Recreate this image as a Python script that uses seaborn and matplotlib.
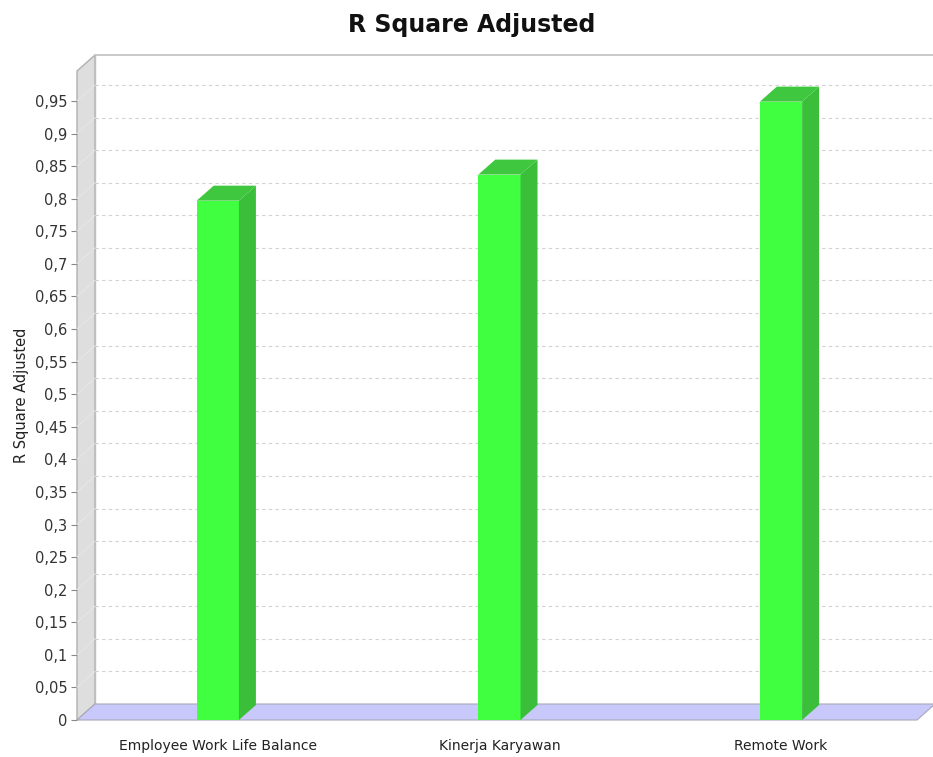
import numpy as np
import pandas as pd
import matplotlib
matplotlib.use("Agg")
import matplotlib.pyplot as plt
import seaborn as sns
from matplotlib.patches import Polygon

sns.set_style("white")
plt.rcParams['font.family'] = ['DejaVu Sans']

# data
categories = ['Employee Work Life Balance', 'Kinerja Karyawan', 'Remote Work']
values = [0.797, 0.837, 0.949]
y_ticks = [round(0.05 * i, 2) for i in range(20)]

df = pd.DataFrame({'Variabel': categories, 'R Square Adjusted': values})

W, H = 933, 757
fig = plt.figure(figsize=(W / 100, H / 100), dpi=100)
# front plane of the 3D plot
L, R, B, T = 77, 917, 720, 71
ax = fig.add_axes([L / W, (H - B) / H, (R - L) / W, (B - T) / H])

sns.barplot(data=df, x='Variabel', y='R Square Adjusted', color='#40ff40',
            saturation=1, width=0.15, ax=ax, zorder=3, edgecolor='none', linewidth=0)

ax.set_xlim(-0.5, 2.483)
ax.set_ylim(0, 0.996)
for s in ax.spines.values():
    s.set_visible(False)

# pixel -> data conversion
px_x = (2.483 + 0.5) / (R - L)
px_y = 0.996 / (B - T)
DX, DY = 18, 16      # wall depth
BDX, BDY = 17, 15    # bar depth
x0, x1 = ax.get_xlim()
y1 = ax.get_ylim()[1]

# left wall
wall = Polygon([(x0, 0), (x0, y1), (x0 + DX * px_x, y1 + DY * px_y), (x0 + DX * px_x, DY * px_y)],
               closed=True, facecolor='#dedede', edgecolor='#b0b0b0', lw=1, zorder=0.5, clip_on=False)
ax.add_patch(wall)
# top border of back wall
ax.plot([x0 + DX * px_x, x1 + DX * px_x], [y1 + DY * px_y] * 2, color='#c0c0c0', lw=1.2,
        zorder=0.6, clip_on=False)
ax.plot([x0 + DX * px_x, x0 + DX * px_x], [DY * px_y, y1 + DY * px_y], color='#c0c0c0', lw=1,
        zorder=0.6, clip_on=False)

# gridlines on back wall + faint guides on left wall
for t in y_ticks[1:]:
    ax.plot([x0 + DX * px_x, x1 + DX * px_x], [t + DY * px_y] * 2, color='#d2d2d2', lw=0.8,
            ls=(0, (3, 3)), zorder=0.7, clip_on=False)
    ax.plot([x0, x0 + DX * px_x], [t, t + DY * px_y], color='#e6e6e6', lw=0.8, zorder=0.6,
            clip_on=False)

# floor
floor = Polygon([(x0, 0), (x1, 0), (x1 + DX * px_x, DY * px_y), (x0 + DX * px_x, DY * px_y)],
                closed=True, facecolor='#c8c8fa', edgecolor='#a8a8b8', lw=0.8, zorder=1, clip_on=False)
ax.add_patch(floor)

# 3D faces for bars
for p in list(ax.patches):
    if p in (wall, floor):
        continue
    bx0 = p.get_x()
    bx1 = bx0 + p.get_width()
    h = p.get_height()
    if h <= 0:
        continue
    ox, oy = BDX * px_x, BDY * px_y
    top = Polygon([(bx0, h), (bx1, h), (bx1 + ox, h + oy), (bx0 + ox, h + oy)],
                  closed=True, facecolor='#3fc83f', edgecolor='none', zorder=3.5, clip_on=False)
    side = Polygon([(bx1, 0), (bx1, h), (bx1 + ox, h + oy), (bx1 + ox, oy)],
                   closed=True, facecolor='#3bbf3b', edgecolor='none', zorder=3.5, clip_on=False)
    ax.add_patch(top)
    ax.add_patch(side)

ax.set_yticks(y_ticks)
ax.set_yticklabels(['0' if t == 0 else f'{t:g}'.replace('.', ',') for t in y_ticks], fontsize=10.5,
                   color='#333333')
ax.tick_params(axis='y', length=4, width=0.8, color='#888888', pad=3, left=True)
ax.tick_params(axis='x', length=0, pad=14, labelsize=10, labelcolor='#222222')
ax.set_xlabel('')
ax.set_ylabel('R Square Adjusted', fontsize=10.5, color='#222222', labelpad=4)
ax.grid(False)
ax.set_facecolor('none')

fig.text(472 / W, 1 - 25 / H, 'R Square Adjusted', ha='center', va='center', fontsize=17,
         fontweight='bold', color='#111111')

fig.savefig('out.png', dpi=100)
